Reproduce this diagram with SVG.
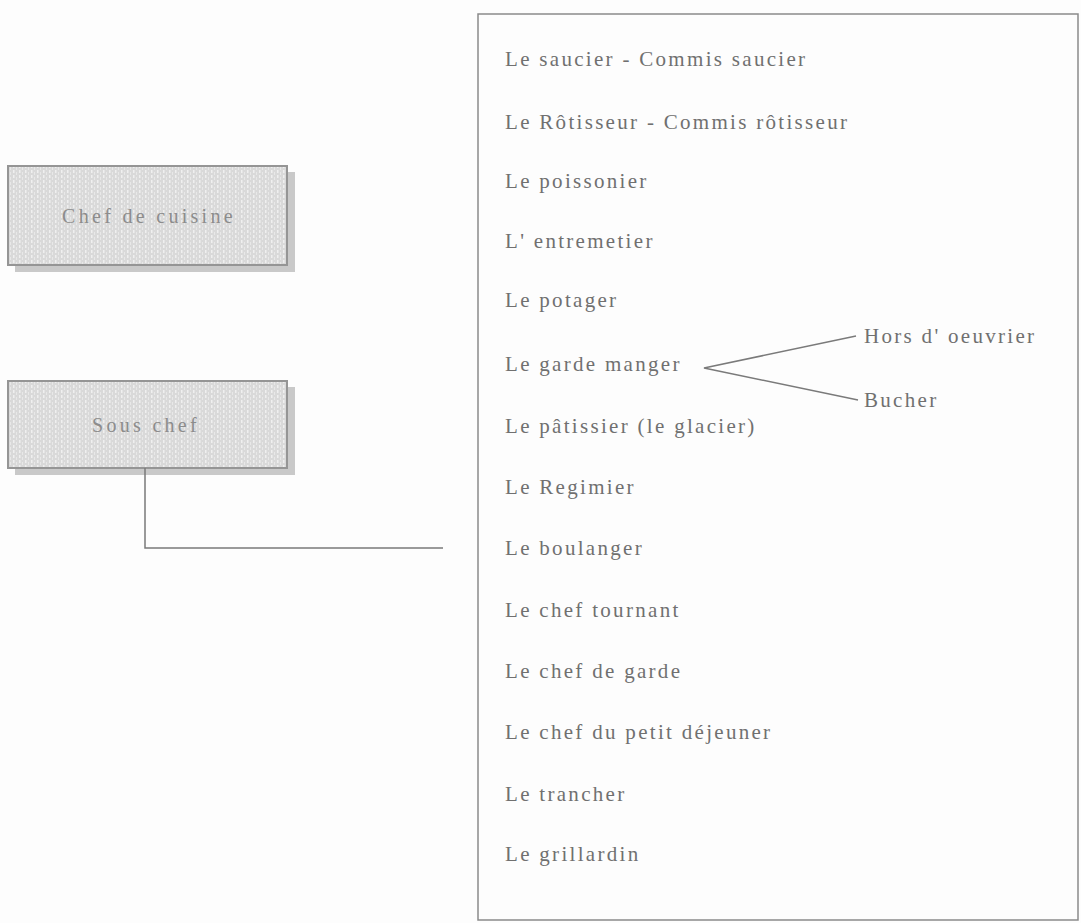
<svg xmlns="http://www.w3.org/2000/svg" width="1081" height="923" viewBox="0 0 1081 923">
  <style>
    .bg { fill: #fdfdfd; }
    .shadow { fill: #c9c9c9; }
    .box { fill: url(#grain); stroke: #959595; stroke-width: 2; }
    .boxlabel { font-family: "Liberation Serif", "Times New Roman", serif; font-size: 20px; fill: #8c8c8c; text-anchor: middle; letter-spacing: 3.3px; }
    .item { font-family: "Liberation Serif", "Times New Roman", serif; font-size: 21px; fill: #707070; letter-spacing: 2.3px; }
    .frame { fill: none; stroke: #8a8a8a; stroke-width: 1.5; }
    .wire { fill: none; stroke: #7a7a7a; stroke-width: 1.5; }
  </style>
  <defs>
    <!-- light streaked grey fill of the two title boxes -->
    <pattern id="grain" width="6" height="5" patternUnits="userSpaceOnUse">
      <rect width="6" height="5" fill="#d9d9d9"/>
      <rect x="1" y="0" width="1.5" height="3" fill="#efefef"/>
      <rect x="4" y="2" width="1" height="3" fill="#e8e8e8"/>
    </pattern>
  </defs>

  <rect class="bg" x="0" y="0" width="1081" height="923"/>

  <g id="chef-de-cuisine">
    <rect class="shadow" x="15" y="172" width="280" height="100"/>
    <rect class="box" x="8" y="166" width="279" height="99"/>
    <text class="boxlabel" x="149" y="223">Chef de cuisine</text>
  </g>

  <g id="sous-chef">
    <rect class="shadow" x="15" y="387" width="280" height="88"/>
    <rect class="box" x="8" y="381" width="279" height="87"/>
    <text class="boxlabel" x="146" y="432">Sous chef</text>
  </g>

  <g id="brigade">
    <rect class="frame" x="478" y="14" width="600" height="906"/>
    <text class="item" x="505" y="66">Le saucier - Commis saucier</text>
    <text class="item" x="505" y="129">Le Rôtisseur - Commis rôtisseur</text>
    <text class="item" x="505" y="188">Le poissonier</text>
    <text class="item" x="505" y="248">L' entremetier</text>
    <text class="item" x="505" y="307">Le potager</text>
    <text class="item" x="505" y="371">Le garde manger</text>
    <text class="item" x="505" y="433">Le pâtissier (le glacier)</text>
    <text class="item" x="505" y="494">Le Regimier</text>
    <text class="item" x="505" y="555">Le boulanger</text>
    <text class="item" x="505" y="617">Le chef tournant</text>
    <text class="item" x="505" y="678">Le chef de garde</text>
    <text class="item" x="505" y="739">Le chef du petit déjeuner</text>
    <text class="item" x="505" y="801">Le trancher</text>
    <text class="item" x="505" y="861">Le grillardin</text>
  </g>

  <g id="hors-d-oeuvrier">
    <text class="item" x="864" y="343">Hors d' oeuvrier</text>
  </g>
  <g id="bucher">
    <text class="item" x="864" y="407">Bucher</text>
  </g>

  <g id="connectors">
    <polyline class="wire" points="145,468 145,548 443,548"/>
    <polyline class="wire" points="856,336 704,368 858,400"/>
  </g>
</svg>
